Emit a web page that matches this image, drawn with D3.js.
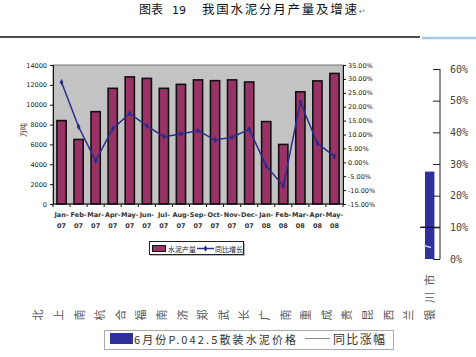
<!DOCTYPE html>
<html><head><meta charset="utf-8">
<script src="https://cdn.jsdelivr.net/npm/d3@7"></script>
<style>
html,body{margin:0;padding:0;background:#fff;}
svg{display:block;}
</style></head>
<body>
<svg id="c" width="476" height="357"></svg>
<script>
// ---- main chart data ----
const months = ["Jan-07","Feb-07","Mar-07","Apr-07","May-07","Jun-07","Jul-07","Aug-07","Sep-07","Oct-07","Nov-07","Dec-07","Jan-08","Feb-08","Mar-08","Apr-08","May-08"];
const output = [8400,6500,9300,11650,12800,12650,11650,12050,12500,12420,12500,12290,8300,6000,11300,12400,13150];
const growth = [28.8,12.8,0.5,12.1,17.6,13.1,9.2,10.2,11.4,8.0,9.0,11.9,-1.3,-8.5,21.6,6.8,2.1];
const leftTicks = [0,2000,4000,6000,8000,10000,12000,14000];
const rightTicks = [-15,-10,-5,0,5,10,15,20,25,30,35];
// ---- background chart data (only partly visible) ----
const cities = ["北京市","上海市","南京市","杭州市","合肥市","福州市","南昌市","济南市","郑州市","武汉市","长沙市","广州市","南宁市","重庆市","成都市","贵阳市","昆明市","西安市","兰州市","银川市"];
const visibleCity = ["兰州市","银川市"];
const cityPrice = [null, 276];     // bar (price) – only 银川 visible
const cityRise = [10, 10];         // 同比涨幅 %
const pctTicks = [0,10,20,30,40,50,60];

const svg = d3.select("#c");

// ================= background chart =================
const bx = d3.scaleBand().domain(cities).range([28, 440]);
const byPct = d3.scaleLinear().domain([0,60]).range([259,69]);
const byPrice = d3.scaleLinear().domain([0,600]).range([259,69]);

// bar
svg.append("g").selectAll("rect").data(visibleCity.map((c,i)=>({c, v:cityPrice[i]})).filter(d=>d.v!=null))
  .join("rect")
  .attr("x", d=>bx(d.c)+bx.bandwidth()/2-4.7)
  .attr("width", 9.4)
  .attr("y", d=>byPrice(d.v))
  .attr("height", d=>byPrice(0)-byPrice(d.v))
  .attr("fill","#30309a");

// line
const cl = d3.line().x((d,i)=>bx(visibleCity[i])+bx.bandwidth()/2).y(d=>byPct(d));
svg.append("path").datum(cityRise).attr("d", cl).attr("fill","none").attr("stroke","#111").attr("stroke-width",1.2);
svg.append("line")
  .attr("x1", bx("银川市")+bx.bandwidth()/2-8).attr("x2", 440)
  .attr("y1", byPct(cityRise[1])).attr("y2", byPct(cityRise[1]))
  .attr("stroke","#111").attr("stroke-width",1.2);
svg.append("line").attr("x1",424).attr("x2",431).attr("y1",245.5).attr("y2",247.5)
  .attr("stroke","#c8d4f0").attr("stroke-width",1.5);

// right axis
const ra = svg.append("g").attr("transform","translate(440,0)")
  .call(d3.axisLeft(byPct).tickValues(pctTicks).tickSize(7).tickFormat(d=>d+"%"));
ra.select(".domain").attr("stroke","#222").attr("d","M0,69V259");
ra.selectAll(".tick line").attr("stroke","#222");
ra.selectAll(".tick text").attr("x",10).attr("text-anchor","start")
  .attr("font-family","DejaVu Sans Mono, Liberation Mono, monospace").attr("font-size","10px").attr("fill","#444");

// city labels
svg.append("g").selectAll("text").data(cities).join("text")
  .attr("transform", d=>`translate(${bx(d)+bx.bandwidth()/2+4},268) rotate(-90)`)
  .attr("text-anchor","end")
  .attr("font-family","Noto Sans CJK SC, sans-serif").attr("font-size","11px").attr("fill","#555")
  .attr("letter-spacing","6.5px")
  .text(d=>d);

// legend of background chart
const lg2 = svg.append("g");
lg2.append("rect").attr("x",104.5).attr("y",330.5).attr("width",289).attr("height",19)
  .attr("fill","#fff").attr("stroke","#aaa");
lg2.append("rect").attr("x",110).attr("y",333).attr("width",23).attr("height",11).attr("fill","#30309a");
lg2.append("text").attr("x",134).attr("y",343.5).attr("font-family","Noto Sans CJK SC, sans-serif")
  .attr("font-size","11px").attr("fill","#333").attr("textLength",162).attr("lengthAdjust","spacing")
  .text("6月份P.042.5散装水泥价格");
lg2.append("line").attr("x1",305).attr("x2",330).attr("y1",338.5).attr("y2",338.5).attr("stroke","#888").attr("stroke-width",1);
lg2.append("text").attr("x",333).attr("y",343.5).attr("font-family","Noto Sans CJK SC, sans-serif")
  .attr("font-size","12px").attr("fill","#333").attr("textLength",52).attr("lengthAdjust","spacing")
  .text("同比涨幅");

// ================= foreground (white image of main chart) =================
svg.append("rect").attr("x",0).attr("y",38).attr("width",420).attr("height",267).attr("fill","#fff");

// title
svg.append("text").attr("x",139).attr("y",14).attr("font-family","Noto Sans CJK SC, sans-serif")
  .attr("font-size","12px").attr("fill","#111").text("图表");
svg.append("text").attr("x",172).attr("y",14).attr("font-family","DejaVu Sans, sans-serif")
  .attr("font-size","11px").attr("fill","#111").text("19");
svg.append("text").attr("x",202).attr("y",14).attr("font-family","Noto Sans CJK SC, sans-serif")
  .attr("font-size","12.5px").attr("fill","#111").attr("textLength",155).attr("lengthAdjust","spacing")
  .text("我国水泥分月产量及增速");
svg.append("text").attr("x",359).attr("y",14).attr("font-family","DejaVu Sans, sans-serif")
  .attr("font-size","8px").attr("fill","#888").text("↵");

// separator lines
svg.append("line").attr("x1",0).attr("x2",420).attr("y1",37).attr("y2",37).attr("stroke","#111").attr("stroke-width",1.6);
svg.append("line").attr("x1",422).attr("x2",476).attr("y1",38).attr("y2",38).attr("stroke","#a9c8e6").attr("stroke-width",2.5);

// main plot
const X0=53, X1=343, Y0=65, Y1=204;
const x = d3.scaleBand().domain(months).range([X0,X1]).paddingInner(0.46).paddingOuter(0.23);
const yL = d3.scaleLinear().domain([0,14000]).range([Y1,Y0]);
const yR = d3.scaleLinear().domain([-15,35]).range([Y1,Y0]);

svg.append("rect").attr("x",X0).attr("y",Y0).attr("width",X1-X0).attr("height",Y1-Y0)
  .attr("fill","#c3c3c3").attr("stroke","#777").attr("stroke-width",1);

svg.append("g").selectAll("rect").data(output).join("rect")
  .attr("x",(d,i)=>x(months[i])).attr("width",x.bandwidth())
  .attr("y",d=>yL(d)).attr("height",d=>yL(0)-yL(d))
  .attr("fill","#993366").attr("stroke","#111").attr("stroke-width",1.6);

// growth line
const ln = d3.line().x((d,i)=>x(months[i])+x.bandwidth()/2).y(d=>yR(d));
svg.append("path").datum(growth).attr("d",ln).attr("fill","none").attr("stroke","#2c2c8c").attr("stroke-width",1.5);
svg.append("g").selectAll("path").data(growth).join("path")
  .attr("d", d3.symbol(d3.symbolDiamond, 12))
  .attr("transform",(d,i)=>`translate(${x(months[i])+x.bandwidth()/2},${yR(d)})`)
  .attr("fill","#2c2c8c");

// axes
const fontAx = "DejaVu Sans, sans-serif";
const la = svg.append("g").attr("transform",`translate(${X0},0)`)
  .call(d3.axisLeft(yL).tickValues(leftTicks).tickSize(3).tickFormat(d3.format("d")));
la.select(".domain").attr("stroke","#111");
la.selectAll(".tick line").attr("stroke","#111");
la.selectAll(".tick text").attr("x",-6).attr("font-family",fontAx).attr("font-size","6.5px").attr("fill","#222");

const rax = svg.append("g").attr("transform",`translate(${X1},0)`)
  .call(d3.axisRight(yR).tickValues(rightTicks).tickSize(3).tickFormat(d=>d.toFixed(2)+"%"));
rax.select(".domain").attr("stroke","#111");
rax.selectAll(".tick line").attr("stroke","#111");
rax.selectAll(".tick text").attr("x",5).attr("font-family",fontAx).attr("font-size","6.5px").attr("fill","#222");

// bottom axis (ticks between categories)
const bg = svg.append("g");
bg.append("line").attr("x1",X0).attr("x2",X1).attr("y1",Y1).attr("y2",Y1).attr("stroke","#111").attr("stroke-width",1.2);
bg.selectAll("line.t").data(d3.range(months.length+1)).join("line").attr("class","t")
  .attr("x1",i=>X0+i*x.step()).attr("x2",i=>X0+i*x.step()).attr("y1",Y1).attr("y2",Y1+3).attr("stroke","#111");
const xl = bg.selectAll("text.m").data(months).join("text").attr("class","m")
  .attr("x",d=>x(d)+x.bandwidth()/2).attr("text-anchor","middle")
  .attr("font-family",fontAx).attr("font-size","6.5px").attr("font-weight","bold").attr("fill","#333");
xl.append("tspan").attr("x",d=>x(d)+x.bandwidth()/2).attr("y",217).text(d=>d.split("-")[0]+"-");
xl.append("tspan").attr("x",d=>x(d)+x.bandwidth()/2).attr("y",228).text(d=>d.split("-")[1]);

// unit label
svg.append("text").attr("transform","translate(26,130) rotate(-90)").attr("text-anchor","middle")
  .attr("font-family","Noto Sans CJK SC, sans-serif").attr("font-size","7px").attr("fill","#333").text("万吨");

// legend
const lg = svg.append("g");
lg.append("rect").attr("x",150).attr("y",243).attr("width",95).attr("height",13).attr("fill","#bbb");
lg.append("rect").attr("x",149.5).attr("y",241.5).attr("width",94).attr("height",13).attr("fill","#fff").attr("stroke","#222");
lg.append("rect").attr("x",152.5).attr("y",245.5).attr("width",13).attr("height",6).attr("fill","#993366").attr("stroke","#111");
lg.append("text").attr("x",168).attr("y",251.5).attr("font-family","Noto Sans CJK SC, sans-serif").attr("font-size","7px").attr("fill","#222").text("水泥产量");
lg.append("line").attr("x1",197).attr("x2",214).attr("y1",248.5).attr("y2",248.5).attr("stroke","#2c2c8c").attr("stroke-width",1.5);
lg.append("path").attr("d",d3.symbol(d3.symbolDiamond,12)).attr("transform","translate(205.5,248.5)").attr("fill","#2c2c8c");
lg.append("text").attr("x",215).attr("y",251.5).attr("font-family","Noto Sans CJK SC, sans-serif").attr("font-size","7px").attr("fill","#222").text("同比增长");
</script>
</body></html>
